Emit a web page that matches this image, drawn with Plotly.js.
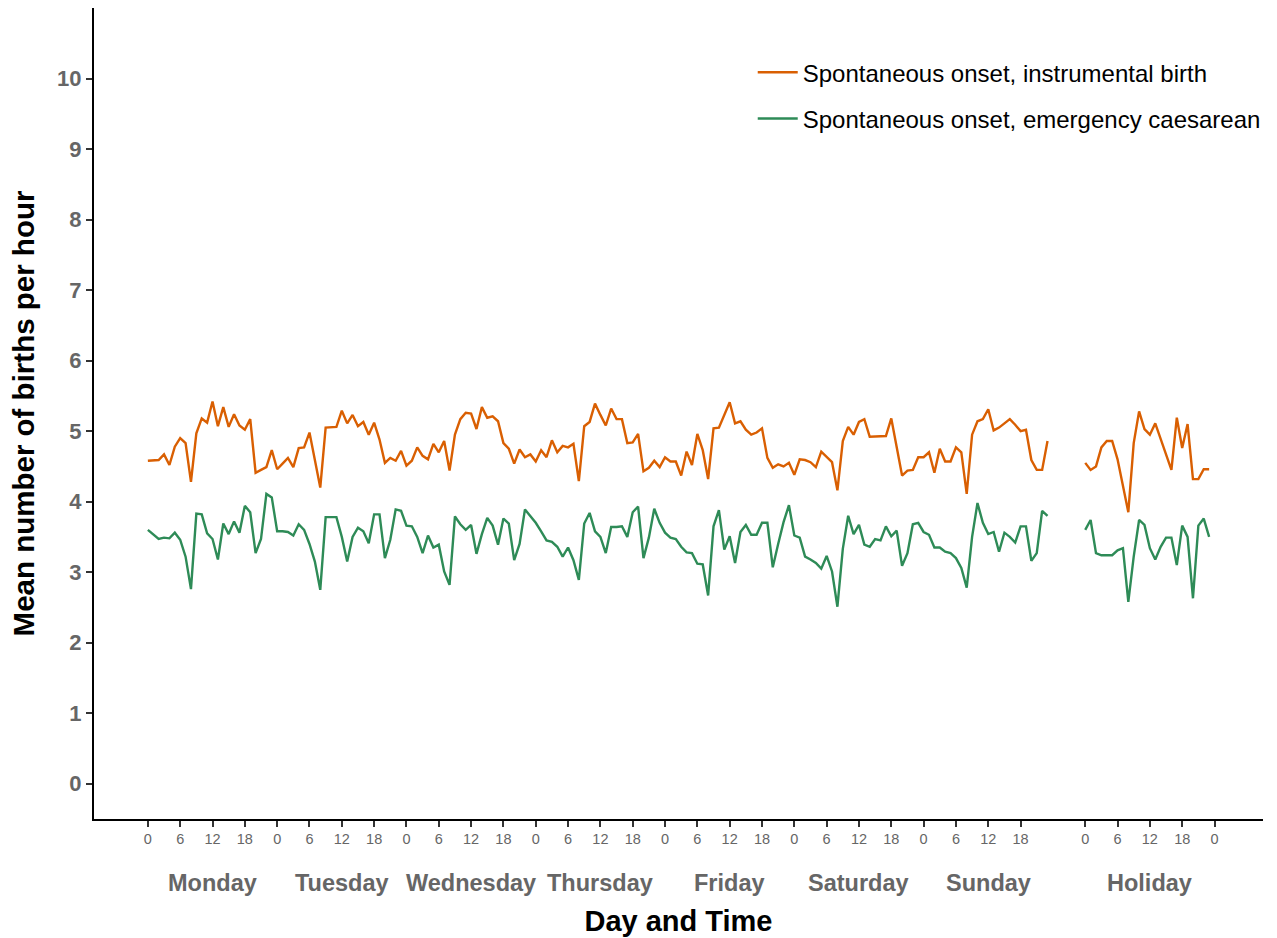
<!DOCTYPE html>
<html>
<head>
<meta charset="utf-8">
<script src="https://cdn.plot.ly/plotly-3.0.1.min.js"></script>
<style>html,body{margin:0;padding:0;background:#fff;}#chart{width:1277px;height:938px;}</style>
</head>
<body>
<div id="chart"></div>
<script>
// Day names (7 weekdays + holiday)
const weekDays = ["Monday", "Tuesday", "Wednesday", "Thursday", "Friday", "Saturday", "Sunday"];
const holidayName = "Holiday";
const hourTickLabels = [0, 6, 12, 18];
const holidayStart = 174; // hour position where the holiday panel starts

// Hourly means, Monday 0h .. Sunday 23h (168 values)
const weekInstrumental = [
  4.58,4.58,4.59,4.67,4.52,4.78,4.90,4.83,4.28,4.97,5.18,5.12,5.42,5.07,5.34,5.06,5.24,5.08,5.02,5.17,4.41,4.45,4.49,4.73,
  4.46,4.54,4.62,4.49,4.76,4.77,4.98,4.59,4.20,5.05,5.05,5.06,5.29,5.11,5.23,5.07,5.13,4.95,5.12,4.88,4.55,4.62,4.58,4.72,
  4.51,4.58,4.77,4.65,4.60,4.82,4.70,4.86,4.44,4.95,5.17,5.26,5.25,5.03,5.34,5.19,5.21,5.14,4.83,4.75,4.54,4.74,4.63,4.67,
  4.57,4.73,4.63,4.87,4.70,4.79,4.77,4.82,4.29,5.07,5.13,5.39,5.23,5.08,5.32,5.17,5.17,4.83,4.84,4.96,4.43,4.48,4.58,4.49,
  4.63,4.57,4.57,4.37,4.71,4.52,4.96,4.73,4.32,5.04,5.05,5.22,5.41,5.11,5.14,5.02,4.95,4.98,5.04,4.62,4.48,4.53,4.50,4.55,
  4.38,4.60,4.59,4.56,4.49,4.71,4.64,4.56,4.16,4.86,5.06,4.95,5.13,5.17,4.92,4.92,4.92,4.93,5.18,4.76,4.37,4.44,4.45,4.63,
  4.63,4.70,4.41,4.75,4.57,4.57,4.77,4.70,4.11,4.95,5.14,5.17,5.31,5.01,5.05,5.11,5.17,5.09,5.00,5.02,4.59,4.45,4.45,4.86
];
const weekCaesarean = [
  3.60,3.53,3.47,3.49,3.48,3.56,3.46,3.22,2.76,3.83,3.82,3.55,3.47,3.18,3.69,3.54,3.72,3.56,3.94,3.85,3.27,3.47,4.11,4.06,
  3.58,3.58,3.57,3.52,3.68,3.60,3.40,3.15,2.75,3.78,3.78,3.78,3.50,3.15,3.50,3.63,3.58,3.41,3.82,3.82,3.20,3.46,3.89,3.87,
  3.66,3.65,3.50,3.27,3.52,3.35,3.39,3.01,2.82,3.79,3.68,3.60,3.67,3.26,3.54,3.77,3.66,3.39,3.76,3.69,3.17,3.40,3.89,3.80,
  3.70,3.58,3.45,3.43,3.36,3.22,3.35,3.17,2.89,3.69,3.84,3.58,3.50,3.27,3.64,3.64,3.65,3.50,3.85,3.93,3.20,3.49,3.90,3.70,
  3.56,3.49,3.47,3.36,3.28,3.27,3.12,3.11,2.67,3.65,3.88,3.32,3.51,3.13,3.57,3.67,3.53,3.53,3.70,3.70,3.07,3.40,3.71,3.95,
  3.52,3.49,3.22,3.18,3.13,3.05,3.23,3.01,2.51,3.33,3.80,3.54,3.67,3.39,3.36,3.47,3.45,3.65,3.51,3.59,3.09,3.27,3.68,3.70,
  3.57,3.53,3.35,3.35,3.29,3.27,3.20,3.06,2.78,3.50,3.98,3.70,3.54,3.57,3.29,3.56,3.50,3.42,3.65,3.65,3.16,3.27,3.87,3.80
];
// Holiday hourly means, 0h .. 23h
const holidayInstrumental = [4.55,4.45,4.50,4.77,4.86,4.86,4.60,4.22,3.85,4.83,5.28,5.03,4.95,5.11,4.89,4.70,4.45,5.19,4.76,5.10,4.32,4.32,4.46,4.46];
const holidayCaesarean = [3.60,3.74,3.27,3.24,3.24,3.24,3.31,3.34,2.58,3.22,3.74,3.67,3.34,3.18,3.36,3.49,3.49,3.10,3.66,3.50,2.63,3.66,3.76,3.50];

const seriesNames = ["Spontaneous onset, instrumental birth", "Spontaneous onset, emergency caesarean"];
const seriesColors = ["#d95f02", "#2e8b57"];

// Build x positions (hours) with a gap before the holiday block
const weekX = weekInstrumental.map((_, i) => i);
const holX = holidayInstrumental.map((_, i) => holidayStart + i);
const xAll = weekX.concat([null], holX);
const yInst = weekInstrumental.concat([null], holidayInstrumental);
const yCaes = weekCaesarean.concat([null], holidayCaesarean);

// Tick values and labels
const tickvals = [], ticktext = [];
weekDays.forEach((d, di) => hourTickLabels.forEach(h => { tickvals.push(di * 24 + h); ticktext.push(String(h)); }));
hourTickLabels.forEach(h => { tickvals.push(holidayStart + h); ticktext.push(String(h)); });
tickvals.push(holidayStart + 24); ticktext.push("0");

const font = "Liberation Sans, Arial, sans-serif";
const dayFont = {family: font, size: 23.5, color: "#666666"};
const dayAnnotations = weekDays.map((d, di) => ({
  x: di * 24 + 12, y: -0.0795, xref: "x", yref: "paper", text: "<b>" + d + "</b>",
  showarrow: false, font: dayFont, yanchor: "middle"
}));
dayAnnotations.push({
  x: holidayStart + 12, y: -0.0795, xref: "x", yref: "paper", text: "<b>" + holidayName + "</b>",
  showarrow: false, font: dayFont, yanchor: "middle"
});

const traces = [
  {x: xAll, y: yInst, type: "scatter", mode: "lines", name: seriesNames[0], legendgroup: "a",
   line: {color: seriesColors[0], width: 2.4}, connectgaps: false},
  {x: xAll, y: yCaes, type: "scatter", mode: "lines", name: seriesNames[1], legendgroup: "b",
   line: {color: seriesColors[1], width: 2.4}, connectgaps: false}
];

const layout = {
  width: 1277, height: 938,
  margin: {l: 94, r: 14, t: 8, b: 119},
  paper_bgcolor: "#ffffff", plot_bgcolor: "#ffffff",
  font: {family: font},
  showlegend: true,
  legend: {x: 0.5635, y: 0.948, xanchor: "left", yanchor: "top", font: {family: font, size: 24, color: "#000"},
           tracegroupgap: 12, traceorder: "grouped", bgcolor: "rgba(0,0,0,0)", itemwidth: 40},
  xaxis: {
    range: [-10, 207], tickmode: "array", tickvals: tickvals, ticktext: ticktext,
    showgrid: false, zeroline: false, showline: true, linecolor: "#000", linewidth: 2,
    ticks: "outside", ticklen: 6, tickwidth: 2, tickcolor: "#333",
    tickfont: {family: font, size: 14.5, color: "#666666"},
    title: {text: "<b>Day and Time</b>", font: {family: font, size: 29, color: "#000"}, standoff: 64}
  },
  yaxis: {
    range: [-0.5, 11], tickmode: "array", tickvals: [0,1,2,3,4,5,6,7,8,9,10],
    ticktext: ["<b>0</b>","<b>1</b>","<b>2</b>","<b>3</b>","<b>4</b>","<b>5</b>","<b>6</b>","<b>7</b>","<b>8</b>","<b>9</b>","<b>10</b>"],
    showgrid: false, zeroline: false, showline: true, linecolor: "#000", linewidth: 2,
    ticks: "outside", ticklen: 6, tickwidth: 2, tickcolor: "#333",
    tickfont: {family: font, size: 22, color: "#666666"},
    title: {text: "<b>Mean number of births per hour</b>", font: {family: font, size: 29.5, color: "#000"}, standoff: 14}
  },
  annotations: dayAnnotations
};

Plotly.newPlot("chart", traces, layout, {displayModeBar: false, staticPlot: true});
</script>
</body>
</html>
